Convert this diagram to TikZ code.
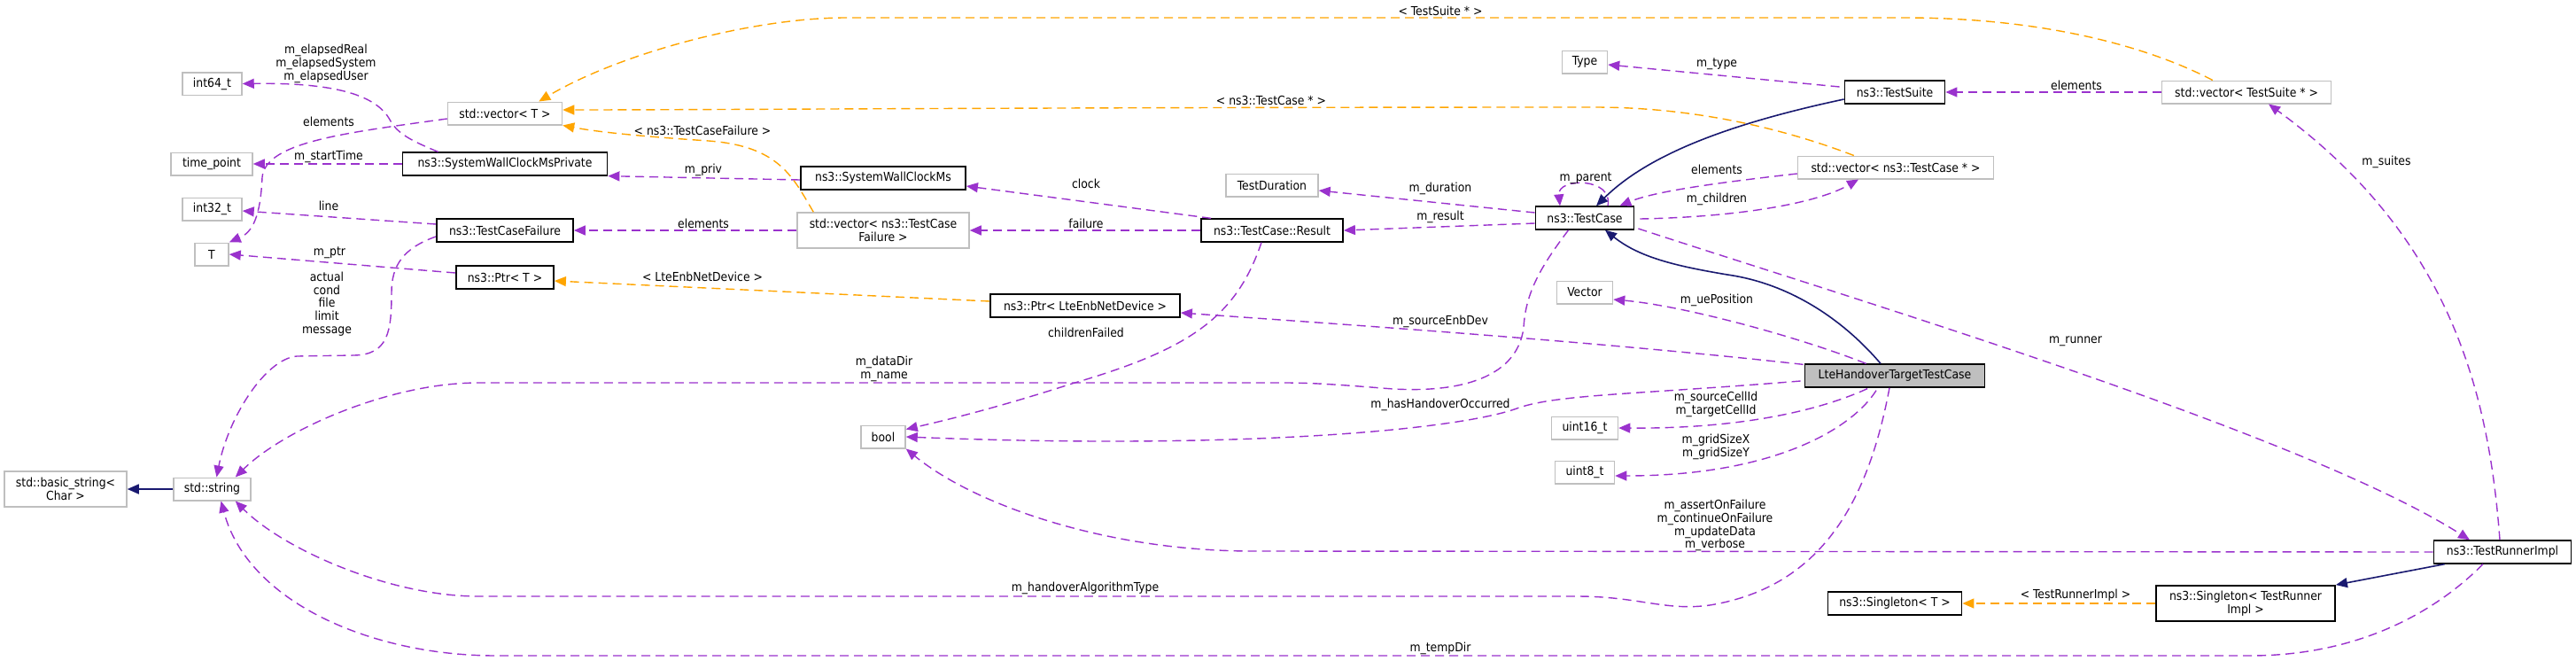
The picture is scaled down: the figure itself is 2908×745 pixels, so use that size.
\documentclass[tikz,border=0pt]{standalone}
\usepackage{fontspec}
\newfontfamily\dxfont{DejaVu Sans Condensed}
\usetikzlibrary{arrows.meta,calc}
\definecolor{mem}{HTML}{9A32CD}
\definecolor{tpl}{HTML}{FFA500}
\definecolor{inh}{HTML}{191970}
\definecolor{gbord}{HTML}{BFBFBF}
\definecolor{mainfill}{HTML}{BFBFBF}
\begin{document}
\begin{tikzpicture}[x=0.5pt,y=-0.5pt,
 box/.style={inner sep=0pt, font=\dxfont\fontsize{6.9}{7.5}\selectfont, align=center, minimum height=12.75pt},
 ext/.style={box, draw=gbord, line width=0.75pt},
 doc/.style={box, draw=black, line width=0.9pt},
 wd/.style={minimum width={#1*0.5pt}},
 two/.style={minimum height=20pt},
 lbl/.style={font=\dxfont\fontsize{6.9}{7.4}\selectfont, align=center, inner sep=0pt},
 memb/.style={draw=mem, line width=0.7pt, dash pattern=on 5pt off 3pt, -{Triangle[length=6.5pt,width=5.5pt]}},
 tmpl/.style={draw=tpl, line width=0.7pt, dash pattern=on 5pt off 3pt, -{Triangle[length=6.5pt,width=5.5pt]}},
 inhe/.style={draw=inh, line width=0.8pt, -{Triangle[length=6.5pt,width=5.5pt]}}
 ]
\fill[white] (0,0) rectangle (2908,745);
\useasboundingbox (0,0) rectangle (2908,745);
% nodes
\node[ext, wd=67] (int64) at (239.5,94.5) {int64\_t};
\node[ext, wd=129] (vecT) at (570,128) {std::vector< T >};
\node[ext, wd=92] (timepoint) at (239,185) {time\_point};
\node[doc, wd=231] (swcmp) at (570,185) {ns3::SystemWallClockMsPrivate};
\node[ext, wd=67] (int32) at (239.5,236) {int32\_t};
\node[doc, wd=154] (tcf) at (570,260) {ns3::TestCaseFailure};
\node[ext, wd=38] (T) at (239,287) {T};
\node[doc, wd=110] (ptrT) at (570,313) {ns3::Ptr< T >};
\node[ext, wd=138, two] (basicstr) at (74,552) {std::basic\_string<\\Char >};
\node[ext, wd=87] (string) at (239.5,552) {std::string};
\node[doc, wd=186] (swcm) at (997,201) {ns3::SystemWallClockMs};
\node[ext, wd=194, two] (vecTCF) at (997,260) {std::vector< ns3::TestCase\\Failure >};
\node[doc, wd=214] (ptrLte) at (1225,345) {ns3::Ptr< LteEnbNetDevice >};
\node[ext, wd=50] (bool) at (997,493) {bool};
\node[ext, wd=104] (testdur) at (1436,209) {TestDuration};
\node[doc, wd=160] (result) at (1436,260) {ns3::TestCase::Result};
\node[ext, wd=51] (type) at (1789,70) {Type};
\node[doc, wd=111] (testcase) at (1789,246) {ns3::TestCase};
\node[ext, wd=63] (vector) at (1789,330) {Vector};
\node[ext, wd=75] (uint16) at (1789,483) {uint16\_t};
\node[ext, wd=67] (uint8) at (1789,533) {uint8\_t};
\node[doc, wd=113] (testsuite) at (2139,104) {ns3::TestSuite};
\node[ext, wd=221] (vecTC) at (2140,189) {std::vector< ns3::TestCase * >};
\node[doc, wd=203, fill=mainfill] (lte) at (2139,424) {LteHandoverTargetTestCase};
\node[doc, wd=151] (singT) at (2139,681) {ns3::Singleton< T >};
\node[ext, wd=191] (vecTS) at (2536,104) {std::vector< TestSuite * >};
\node[doc, wd=202, two] (singTRI) at (2535,681) {ns3::Singleton< TestRunner\\Impl >};
\node[doc, wd=155] (runner) at (2825,623) {ns3::TestRunnerImpl};
% member edges
\draw[memb] ($(swcmp.north west)+(41,0)$) .. controls (462,158) and (448,150) .. (440,135) .. controls (425,108) and (380,93) .. (int64.east);
\draw[memb] ($(vecT.west)+(0,6)$) .. controls (390,150) and (300,160) .. (296,200) .. controls (294,245) and (285,262) .. (T.north east);
\draw[memb] (swcmp.west) -- (timepoint.east);
\draw[memb] ($(swcm.west)+(0,2)$) -- (swcmp.south east);
\draw[memb] ($(tcf.west)+(0,-7)$) -- ($(int32.east)+(0,2)$);
\draw[memb] (vecTCF.west) -- (tcf.east);
\draw[memb] ($(ptrT.west)+(0,-5)$) -- (T.east);
\draw[memb] ($(tcf.west)+(0,7)$) .. controls (455,280) and (442,300) .. (442,330) .. controls (442,375) and (438,400) .. (400,401) -- (335,402) .. controls (300,405) and (258,470) .. ($(string.north)+(5,0)$);
\draw[memb] ($(result.north west)+(12,0)$) -- ($(swcm.east)+(0,9)$);
\draw[memb] (result.west) -- (vecTCF.east);
\draw[memb] ($(testcase.west)+(0,-6)$) -- ($(testdur.east)+(0,6)$);
\draw[memb] ($(testcase.west)+(0,6)$) -- (result.east);
\draw[memb] ($(result.south)+(-12,0)$) .. controls (1395,360) and (1340,395) .. (1210,433) .. controls (1120,462) and (1060,476) .. ($(bool.north east)+(0,5)$);
\draw[memb] ($(testcase.south west)+(38,0)$) .. controls (1740,300) and (1722,330) .. (1720,370) .. controls (1712,430) and (1640,445) .. (1560,438) .. controls (1510,434) and (1480,432) .. (1450,432) -- (540,432) .. controls (440,432) and (320,485) .. ($(string.north east)+(-18,0)$);
\draw[memb] ($(testcase.north)+(26,0)$) .. controls (1822,200) and (1758,200) .. ($(testcase.north)+(-28,0)$);
\draw[memb] ($(vecTC.west)+(0,7)$) .. controls (1950,205) and (1870,215) .. ($(testcase.north east)+(-17,0)$);
\draw[memb] ($(testcase.east)+(6,1)$) .. controls (1960,245) and (2050,230) .. ($(vecTC.south)+(-42,0)$);
\draw[memb] ($(testsuite.west)+(-5,-6)$) -- ($(type.east)+(0,3)$);
\draw[memb] (vecTS.west) -- (testsuite.east);
\draw[memb] ($(runner.north)+(-3,0)$) .. controls (2810,450) and (2770,270) .. ($(vecTS.south)+(25,0)$);
\draw[memb] ($(testcase.east)+(4,12)$) .. controls (2100,340) and (2600,490) .. ($(runner.north)+(-37,0)$);
\draw[memb] ($(lte.north west)+(70,0)$) .. controls (2030,380) and (1900,345) .. ($(vector.east)+(0,8)$);
\draw[memb] ($(lte.north west)+(-1,1)$) .. controls (1800,385) and (1500,365) .. ($(ptrLte.east)+(0,8)$);
\draw[memb] ($(lte.west)+(-4,6)$) .. controls (1850,445) and (1760,445) .. (1715,460) .. controls (1650,485) and (1400,508) .. (bool.east);
\draw[memb] ($(lte.south)+(-31,1)$) .. controls (2050,465) and (1960,484) .. (uint16.east);
\draw[memb] ($(lte.south)+(-21,3)$) .. controls (2090,485) and (2000,537) .. ($(uint8.east)+(0,4)$);
\draw[memb] ($(lte.south)+(-6,0)$) .. controls (2110,560) and (2060,662) .. (1930,683) .. controls (1880,690) and (1850,673) .. (1780,673) -- (540,673) .. controls (440,673) and (320,620) .. ($(string.south east)+(-18,0)$);
\draw[memb] (runner.west) -- (1414,622) .. controls (1250,622) and (1100,570) .. (bool.south east);
\draw[memb] ($(runner.south)+(-22,0)$) .. controls (2740,700) and (2650,740) .. (2540,740) -- (560,740) .. controls (420,740) and (280,680) .. ($(string.south)+(10,0)$);
% template edges
\draw[tmpl] ($(vecTS.north west)+(58,0)$) .. controls (2420,50) and (2300,20) .. (2150,20) -- (955,20) .. controls (850,20) and (700,60) .. ($(vecT.north east)+(-27,0)$);
\draw[tmpl] ($(vecTC.north west)+(64,0)$) .. controls (2000,140) and (1900,121) .. (1800,121) .. controls (1200,121) and (800,124) .. ($(vecT.east)+(0,-4)$);
\draw[tmpl] ($(vecTCF.north west)+(19,0)$) .. controls (895,200) and (880,165) .. (800,159) .. controls (740,155) and (680,150) .. (vecT.south east);
\draw[tmpl] ($(ptrLte.west)+(0,-5)$) -- ($(ptrT.east)+(0,4)$);
\draw[tmpl] (singTRI.west) -- (singT.east);
% inheritance
\draw[inhe] (string.west) -- (basicstr.east);
\draw[inhe] ($(testsuite.west)+(0,8)$) .. controls (1950,140) and (1860,175) .. ($(testcase.north)+(13,0)$);
\draw[inhe] ($(lte.north)+(-16,0)$) .. controls (2080,360) and (2020,320) .. (1950,310) .. controls (1890,300) and (1850,290) .. ($(testcase.south)+(23,0)$);
\draw[inhe] ($(runner.south west)+(13,0)$) -- (singTRI.north east);
% labels
\node[lbl] (l1) at (368,72) {m\_elapsedReal\\m\_elapsedSystem\\m\_elapsedUser};
\node[lbl] (l2) at (371,137) {elements};
\node[lbl] (l3) at (371,177) {m\_startTime};
\node[lbl] (l4) at (371,232) {line};
\node[lbl] (l5) at (372,285) {m\_ptr};
\node[lbl] (l6) at (369,343) {actual\\cond\\file\\limit\\message};
\node[lbl] (l7) at (793,147) {< ns3::TestCaseFailure >};
\node[lbl] (l8) at (794,192) {m\_priv};
\node[lbl] (l9) at (794,252) {elements};
\node[lbl] (l10) at (793,312) {< LteEnbNetDevice >};
\node[lbl] (l11) at (1435,113) {< ns3::TestCase * >};
\node[lbl] (l12) at (1226,207) {clock};
\node[lbl] (l13) at (1226,252) {failure};
\node[lbl] (l14) at (1226,375) {childrenFailed};
\node[lbl] (l15) at (998,416) {m\_dataDir\\m\_name};
\node[lbl] (l16) at (1225,664) {m\_handoverAlgorithmType};
\node[lbl] (l17) at (1626,12) {< TestSuite * >};
\node[lbl] (l18) at (1938,72) {m\_type};
\node[lbl] (l19) at (1626,213) {m\_duration};
\node[lbl] (l20) at (1790,201) {m\_parent};
\node[lbl] (l21) at (1626,245) {m\_result};
\node[lbl] (l22) at (1938,191) {elements};
\node[lbl] (l23) at (1938,225) {m\_children};
\node[lbl] (l24) at (1938,339) {m\_uePosition};
\node[lbl] (l25) at (1626,363) {m\_sourceEnbDev};
\node[lbl] (l26) at (1937,456) {m\_sourceCellId\\m\_targetCellId};
\node[lbl] (l27) at (1937,504) {m\_gridSizeX\\m\_gridSizeY};
\node[lbl] (l28) at (1626,457) {m\_hasHandoverOccurred};
\node[lbl] (l29) at (1936,593) {m\_assertOnFailure\\m\_continueOnFailure\\m\_updateData\\m\_verbose};
\node[lbl] (l30) at (1626,732) {m\_tempDir};
\node[lbl] (l31) at (2344,96) {elements};
\node[lbl] (l32) at (2694,183) {m\_suites};
\node[lbl] (l33) at (2343,385) {m\_runner};
\node[lbl] (l34) at (2343,672) {< TestRunnerImpl >};
\end{tikzpicture}
\end{document}
